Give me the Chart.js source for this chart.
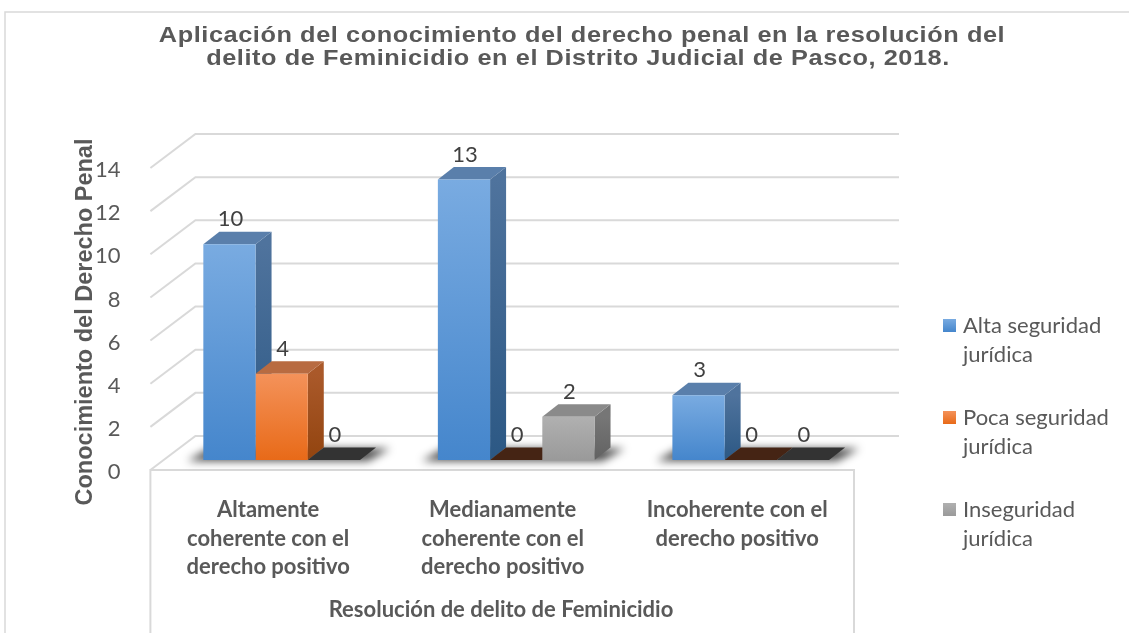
<!DOCTYPE html>
<html>
<head>
<meta charset="utf-8">
<script src="https://cdn.jsdelivr.net/npm/chart.js@4.4.0/dist/chart.umd.min.js"></script>
<style>
  html, body { margin: 0; padding: 0; background: #fff; }
  #wrap { width: 1129px; height: 633px; }
</style>
</head>
<body>
<div id="wrap"><canvas id="chart" width="1129" height="633"></canvas></div>
<script>
// Data
const categories = [
    ['Altamente', 'coherente con el', 'derecho positivo'],
    ['Medianamente', 'coherente con el', 'derecho positivo'],
    ['Incoherente con el', 'derecho positivo']
];
const seriesNames = ['Alta seguridad jurídica', 'Poca seguridad jurídica', 'Inseguridad jurídica'];
const altaSeguridad = [10, 13, 3];
const pocaSeguridad = [4, 0, 0];
const inseguridad = [0, 2, 0];
const yTicks = [0, 2, 4, 6, 8, 10, 12, 14];
const titleLines = [
    'Aplicación del conocimiento del derecho penal en la resolución del',
    'delito de Feminicidio en el Distrito Judicial de Pasco, 2018.'
];
const yTitle = 'Conocimiento del Derecho Penal';
const xTitle = 'Resolución de delito de Feminicidio';

// Styles
const TEXT = '#595959';
const GRID = '#d9d9d9';
const palette = [
    { top: '#79abe1', bottom: '#4586cc', side: ['#4f739d', '#2c5884'], lid: '#5a7fab', flat: '#25405f' },
    { top: '#f4925a', bottom: '#e86a18', side: ['#aa592a', '#92440f'], lid: '#b86b41', flat: '#452414' },
    { top: '#b0b0b0', bottom: '#9a9a9a', side: ['#767676', '#626262'], lid: '#8a8a8a', flat: '#333333' }
];
// 3D offsets relative to the plane Chart.js draws the bar fronts in
const FRONT = { x: -14, y: 10 };
const DEPTH = { x: 16, y: -12.5 };
const BACK = { x: 31, y: -24 };

function poly(ctx, pts, fill) {
    ctx.beginPath();
    ctx.moveTo(pts[0][0], pts[0][1]);
    for (let i = 1; i < pts.length; i++) ctx.lineTo(pts[i][0], pts[i][1]);
    ctx.closePath();
    ctx.fillStyle = fill;
    ctx.fill();
}

function frontFill(c) {
    const p = palette[c.datasetIndex];
    if (c.type !== 'data' || !c.chart.scales.y) return p.bottom;
    const y = c.chart.scales.y;
    const top = y.getPixelForValue(c.raw);
    const base = y.getPixelForValue(0);
    if (!isFinite(top) || !isFinite(base) || base - top < 1) return p.bottom;
    const g = c.chart.ctx.createLinearGradient(0, top, 0, base);
    g.addColorStop(0, p.top);
    g.addColorStop(1, p.bottom);
    return g;
}

const bars3d = {
    id: 'bars3d',
    beforeDraw(chart) {
        const ctx = chart.ctx;
        ctx.save();
        ctx.fillStyle = '#fff';
        ctx.fillRect(0, 0, chart.width, chart.height);
        ctx.strokeStyle = GRID;
        ctx.lineWidth = 1.5;
        ctx.strokeRect(5, 12, chart.width + 20, chart.height + 20);
        ctx.restore();
    },
    beforeDatasetsDraw(chart) {
        const { ctx, chartArea: a, scales: { y } } = chart;
        ctx.save();

        // back wall and side wall grid
        ctx.strokeStyle = GRID;
        ctx.lineWidth = 2;
        yTicks.forEach(v => {
            const py = y.getPixelForValue(v);
            ctx.beginPath();
            ctx.moveTo(a.left + FRONT.x, py + FRONT.y);
            ctx.lineTo(a.left + BACK.x, py + BACK.y);
            ctx.lineTo(a.right + BACK.x, py + BACK.y);
            ctx.stroke();
        });

        // floor front edge + category box
        const fy = y.getPixelForValue(0) + FRONT.y;
        ctx.beginPath();
        ctx.moveTo(a.left + FRONT.x, chart.height);
        ctx.lineTo(a.left + FRONT.x, fy);
        ctx.lineTo(a.right + FRONT.x, fy);
        ctx.lineTo(a.right + FRONT.x, chart.height);
        ctx.stroke();

        const metas = chart.data.datasets.map((d, i) => chart.getDatasetMeta(i));

        categories.forEach((c, i) => {
            const first = metas[0].data[i];
            const last = metas[metas.length - 1].data[i];
            const l = first.x - first.width / 2;
            const r = last.x + last.width / 2;
            const b = first.base;

            // soft floor shadow
            ctx.save();
            ctx.filter = 'blur(4px)';
            poly(ctx, [
                [l - 16, b + 1], [r + 8, b + 1],
                [r + DEPTH.x + 14, b + DEPTH.y + 1], [l + DEPTH.x - 10, b + DEPTH.y + 1]
            ], 'rgba(0,0,0,0.7)');
            ctx.restore();

            metas.forEach((m, d) => {
                const el = m.data[i];
                const p = palette[d];
                const bl = el.x - el.width / 2;
                const br = el.x + el.width / 2;
                const t = el.y;
                const bb = el.base;
                if (bb - t > 0.5) {
                    const g = ctx.createLinearGradient(0, t, 0, bb);
                    g.addColorStop(0, p.side[0]);
                    g.addColorStop(1, p.side[1]);
                    poly(ctx, [[br, t], [br + DEPTH.x, t + DEPTH.y], [br + DEPTH.x, bb + DEPTH.y], [br, bb]], g);
                    poly(ctx, [[bl, t], [bl + DEPTH.x, t + DEPTH.y], [br + DEPTH.x, t + DEPTH.y], [br, t]], p.lid);
                } else {
                    poly(ctx, [[bl, bb], [bl + DEPTH.x, bb + DEPTH.y], [br + DEPTH.x, bb + DEPTH.y], [br, bb]], p.flat);
                }
            });
        });
        ctx.restore();
    },
    afterDatasetsDraw(chart) {
        const ctx = chart.ctx;
        ctx.save();
        ctx.font = '22px Lato';
        ctx.fillStyle = '#404040';
        ctx.textAlign = 'center';
        ctx.textBaseline = 'alphabetic';
        chart.data.datasets.forEach((ds, d) => {
            chart.getDatasetMeta(d).data.forEach((el, i) => {
                ctx.fillText(String(ds.data[i]), el.x + 1, el.y - 18);
            });
        });
        ctx.restore();
    },
    afterDraw(chart) {
        const ctx = chart.ctx;
        ctx.save();
        ctx.fillStyle = TEXT;

        // chart title (the original is set a little wide)
        ctx.font = 'bold 22px "Liberation Sans", Arial';
        ctx.textAlign = 'center';
        ctx.textBaseline = 'alphabetic';
        if ('letterSpacing' in ctx) ctx.letterSpacing = '0.5px';
        [[titleLines[0], 582, 42], [titleLines[1], 578, 65]].forEach(([txt, cx, by]) => {
            ctx.save();
            ctx.translate(cx, by);
            ctx.scale(1.15, 1);
            ctx.fillText(txt, 0, 0);
            ctx.restore();
        });
        if ('letterSpacing' in ctx) ctx.letterSpacing = '0px';

        // y axis title
        ctx.save();
        ctx.translate(92, 322);
        ctx.rotate(-Math.PI / 2);
        ctx.font = 'bold 23.5px "Liberation Sans", Arial';
        ctx.fillText(yTitle, 0, 0);
        ctx.restore();

        // x axis title
        ctx.font = 'bold 22px Lato';
        ctx.fillText(xTitle, 501, 617);

        // legend
        ctx.textAlign = 'left';
        ctx.font = '22px Lato';
        seriesNames.forEach((name, k) => {
            const top = 319 + k * 92;
            const p = palette[k];
            const g = ctx.createLinearGradient(0, top, 0, top + 13);
            g.addColorStop(0, p.top);
            g.addColorStop(1, p.bottom);
            ctx.fillStyle = g;
            ctx.fillRect(943, top, 13, 13);
            ctx.fillStyle = TEXT;
            const words = name.split(' ');
            const last = words.pop();
            ctx.fillText(words.join(' '), 963, top + 14);
            ctx.fillText(last, 963, top + 43);
        });
        ctx.restore();
    }
};

const chart = new Chart(document.getElementById('chart'), {
    type: 'bar',
    data: {
        labels: categories,
        datasets: [
            { label: seriesNames[0], data: altaSeguridad },
            { label: seriesNames[1], data: pocaSeguridad },
            { label: seriesNames[2], data: inseguridad }
        ].map(ds => Object.assign(ds, {
            backgroundColor: frontFill,
            borderWidth: 0,
            barPercentage: 1,
            categoryPercentage: 0.668
        }))
    },
    options: {
        responsive: false,
        animation: false,
        events: [],
        layout: {
            padding: { left: 25, right: 261, top: 158, bottom: 0 }
        },
        plugins: {
            legend: { display: false },
            title: { display: false },
            tooltip: { enabled: false }
        },
        scales: {
            x: {
                grid: { display: false },
                border: { display: false },
                ticks: {
                    color: TEXT,
                    font: { family: 'Lato', size: 22, weight: 'bold', lineHeight: 1.286 },
                    padding: 28,
                    labelOffset: -13.5,
                    maxRotation: 0,
                    autoSkip: false
                },
                afterFit(scale) { scale.height = 173; }
            },
            y: {
                min: 0,
                max: 14,
                grid: { display: false },
                border: { display: false },
                ticks: {
                    stepSize: 2,
                    color: TEXT,
                    font: { family: 'Lato', size: 22 },
                    padding: 36,
                    labelOffset: 12
                },
                afterFit(scale) { scale.width = 139.4; }
            }
        }
    },
    plugins: [bars3d]
});
</script>
</body>
</html>
